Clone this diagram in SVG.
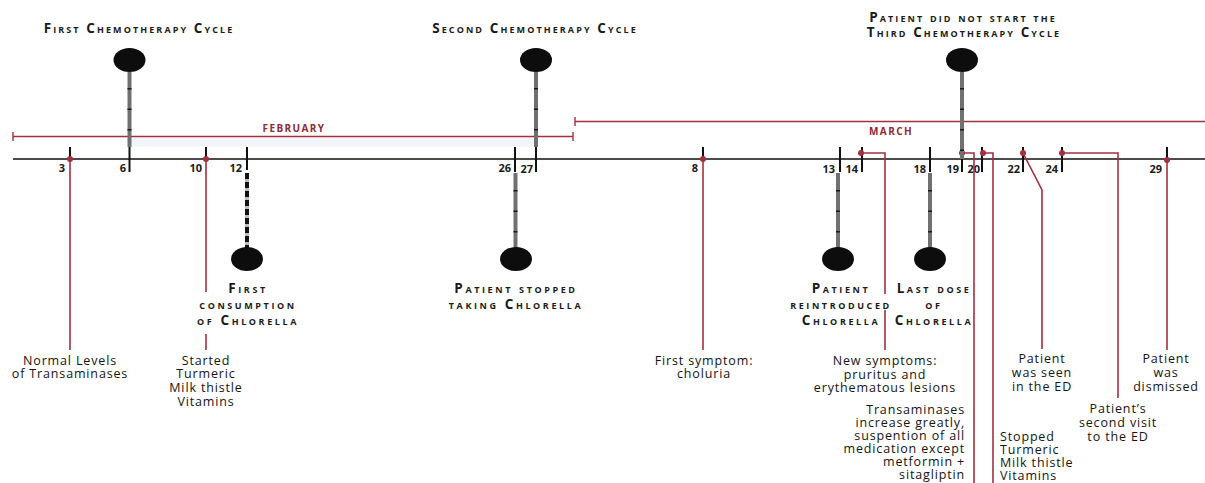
<svg xmlns="http://www.w3.org/2000/svg" width="1205" height="483" viewBox="0 0 1205 483">
<style>
.h{font-family:"Open Sans","DejaVu Sans",sans-serif;font-weight:700;font-variant:small-caps;font-size:13.5px;letter-spacing:2.1px;fill:#1a1a1a;text-anchor:middle}
.l{font-family:"Open Sans","DejaVu Sans",sans-serif;font-weight:700;font-variant:small-caps;font-size:13.5px;letter-spacing:2.6px;fill:#1a1a1a;text-anchor:middle}
.b{font-family:"Open Sans","DejaVu Sans",sans-serif;font-size:12.5px;letter-spacing:0.85px;fill:#141414;text-anchor:middle}
.be{text-anchor:end}
.bs{text-anchor:start}
.n{font-family:"Open Sans","DejaVu Sans",sans-serif;font-weight:700;font-size:11px;fill:#1a1a1a;text-anchor:end}
.m{font-family:"Open Sans","DejaVu Sans",sans-serif;font-weight:700;font-size:10px;letter-spacing:1.4px;fill:#8e2a36;text-anchor:middle}
.r{stroke:#a3303d;stroke-width:1.6;fill:none}
.mo{stroke:#a3303d;stroke-width:1.4;fill:none}
.t{stroke:#111;stroke-width:2}
.stem{stroke:#707070;stroke-width:4}
.stemd{stroke:#1a1a1a;stroke-width:4;stroke-dasharray:1.5 19}
.stemb{stroke:#111;stroke-width:4;stroke-dasharray:6 3}
.dot{fill:#a3303d}
.ball{fill:#0d0d0d}
</style>

<g id="axis">
  <rect x="131" y="137.5" width="403" height="9" fill="#f1f4f8"/>
  <line x1="13" y1="159" x2="1205" y2="159" stroke="#111" stroke-width="1.6"/>
</g>

<g id="months">
  <g id="february">
    <line class="mo" x1="13" y1="136.5" x2="573" y2="136.5"/>
    <line class="mo" x1="13" y1="132" x2="13" y2="141"/>
    <line class="mo" x1="573" y1="132" x2="573" y2="141"/>
    <text class="m" x="294" y="132">FEBRUARY</text>
  </g>
  <g id="march">
    <line class="mo" x1="575" y1="121.5" x2="1205" y2="121.5"/>
    <line class="mo" x1="575" y1="117" x2="575" y2="126"/>
    <text class="m" x="891" y="135">MARCH</text>
  </g>
</g>

<g id="ticks">
  <line class="t" x1="70" y1="147" x2="70" y2="159"/>
  <line class="t" x1="129.5" y1="147" x2="129.5" y2="172"/>
  <line class="t" x1="206" y1="147" x2="206" y2="159"/>
  <line class="t" x1="247" y1="147" x2="247" y2="170"/>
  <line class="t" x1="515" y1="147" x2="515" y2="172"/>
  <line class="t" x1="536" y1="147" x2="536" y2="172"/>
  <line class="t" x1="703" y1="147" x2="703" y2="159"/>
  <line class="t" x1="840" y1="147" x2="840" y2="172"/>
  <line class="t" x1="862" y1="147" x2="862" y2="172"/>
  <line class="t" x1="930" y1="147" x2="930" y2="172"/>
  <line class="t" x1="962" y1="147" x2="962" y2="172"/>
  <line class="t" x1="982" y1="147" x2="982" y2="172"/>
  <line class="t" x1="1023" y1="147" x2="1023" y2="172"/>
  <line class="t" x1="1062" y1="147" x2="1062" y2="172"/>
  <line class="t" x1="1167" y1="147" x2="1167" y2="160"/>
  <text class="n" x="65" y="172">3</text>
  <text class="n" x="126" y="172">6</text>
  <text class="n" x="202" y="172">10</text>
  <text class="n" x="242" y="172">12</text>
  <text class="n" x="511" y="172">26</text>
  <text class="n" x="533" y="173">27</text>
  <text class="n" x="698" y="172">8</text>
  <text class="n" x="835" y="173">13</text>
  <text class="n" x="858" y="173">14</text>
  <text class="n" x="926" y="173">18</text>
  <text class="n" x="959" y="173">19</text>
  <text class="n" x="980" y="173">20</text>
  <text class="n" x="1020" y="173">22</text>
  <text class="n" x="1058" y="173">24</text>
  <text class="n" x="1162" y="173">29</text>
</g>

<g id="connectors">
  <path class="r" d="M70 159V350"/>
  <path class="r" d="M206 159V292M206 334V350"/>
  <path class="r" d="M703 159V350"/>
  <path class="r" d="M861 153H885V294M885 310V350"/>
  <path class="r" d="M962 153H974V483"/>
  <path class="r" d="M983 153H993V483"/>
  <path class="r" d="M1023 153L1042 190V349"/>
  <path class="r" d="M1062 153H1118V398"/>
  <path class="r" d="M1167 160V350"/>
  <circle class="dot" cx="70" cy="159" r="3"/>
  <circle class="dot" cx="206" cy="159" r="3"/>
  <circle class="dot" cx="703" cy="159" r="3"/>
  <circle class="dot" cx="861" cy="153" r="3"/>
  <circle class="dot" cx="962" cy="153" r="3"/>
  <circle class="dot" cx="983" cy="153" r="3"/>
  <circle class="dot" cx="1023" cy="153" r="3"/>
  <circle class="dot" cx="1062" cy="153" r="3"/>
  <circle class="dot" cx="1167" cy="160" r="3"/>
</g>

<g id="chemo1">
  <line class="stem" x1="129.5" y1="72" x2="129.5" y2="147"/>
  <line class="stemd" x1="129.5" y1="88" x2="129.5" y2="147"/>
  <ellipse class="ball" cx="129.5" cy="60" rx="16" ry="12"/>
  <text class="h" x="139" y="33">First Chemotherapy Cycle</text>
</g>
<g id="chemo2">
  <line class="stem" x1="536" y1="72" x2="536" y2="147"/>
  <line class="stemd" x1="536" y1="88" x2="536" y2="147"/>
  <ellipse class="ball" cx="536" cy="60" rx="16" ry="12"/>
  <text class="h" x="535" y="33">Second Chemotherapy Cycle</text>
</g>
<g id="chemo3">
  <line class="stem" x1="962" y1="72" x2="962" y2="159"/>
  <line class="stemd" x1="962" y1="88" x2="962" y2="159"/>
  <ellipse class="ball" cx="962" cy="60" rx="16" ry="12"/>
  <text class="h" x="963" y="22">Patient did not start the</text>
  <text class="h" x="964" y="37">Third Chemotherapy Cycle</text>
</g>

<g id="first-chlorella">
  <line stroke="#bbb" stroke-width="4" x1="247" y1="173" x2="247" y2="248"/>
  <line class="stemb" x1="247" y1="173" x2="247" y2="248"/>
  <ellipse class="ball" cx="247" cy="259" rx="16" ry="12"/>
  <text class="l" x="248" y="293">First</text>
  <text class="l" x="248" y="309">consumption</text>
  <text class="l" x="248" y="325">of Chlorella</text>
</g>
<g id="stopped-chlorella">
  <line class="stem" x1="515.5" y1="173" x2="515.5" y2="248"/>
  <line class="stemd" x1="515.5" y1="190" x2="515.5" y2="248"/>
  <ellipse class="ball" cx="516" cy="259" rx="16" ry="12"/>
  <text class="l" x="516" y="293">Patient stopped</text>
  <text class="l" x="516" y="309">taking Chlorella</text>
</g>
<g id="reintroduced-chlorella">
  <line class="stem" x1="838" y1="173" x2="838" y2="248"/>
  <line class="stemd" x1="838" y1="190" x2="838" y2="248"/>
  <ellipse class="ball" cx="838" cy="259" rx="16" ry="12"/>
  <text class="l" x="841" y="293">Patient</text>
  <text class="l" x="841" y="309">reintroduced</text>
  <text class="l" x="841" y="325">Chlorella</text>
</g>
<g id="last-chlorella">
  <line class="stem" x1="930" y1="173" x2="930" y2="248"/>
  <line class="stemd" x1="930" y1="190" x2="930" y2="248"/>
  <ellipse class="ball" cx="930" cy="259" rx="16" ry="12"/>
  <text class="l" x="934" y="293">Last dose</text>
  <text class="l" x="934" y="309">of</text>
  <text class="l" x="934" y="325">Chlorella</text>
</g>

<g id="e-normal">
  <text class="b" x="70" y="365">Normal Levels</text>
  <text class="b" x="70" y="378">of Transaminases</text>
</g>
<g id="e-started">
  <text class="b" x="206" y="365">Started</text>
  <text class="b" x="206" y="378">Turmeric</text>
  <text class="b" x="206" y="392">Milk thistle</text>
  <text class="b" x="206" y="406">Vitamins</text>
</g>
<g id="e-choluria">
  <text class="b" x="704" y="365">First symptom:</text>
  <text class="b" x="704" y="378">choluria</text>
</g>
<g id="e-newsymptoms">
  <text class="b" x="885" y="365">New symptoms:</text>
  <text class="b" x="885" y="379">pruritus and</text>
  <text class="b" x="885" y="392">erythematous lesions</text>
</g>
<g id="e-transaminases">
  <text class="b be" x="965" y="414">Transaminases</text>
  <text class="b be" x="965" y="427">increase greatly,</text>
  <text class="b be" x="965" y="440">suspention of all</text>
  <text class="b be" x="965" y="453">medication except</text>
  <text class="b be" x="965" y="466">metformin +</text>
  <text class="b be" x="965" y="479">sitagliptin</text>
</g>
<g id="e-stopped">
  <text class="b bs" x="1000" y="441">Stopped</text>
  <text class="b bs" x="1000" y="454">Turmeric</text>
  <text class="b bs" x="1000" y="467">Milk thistle</text>
  <text class="b bs" x="1000" y="480">Vitamins</text>
</g>
<g id="e-ed1">
  <text class="b" x="1042" y="363">Patient</text>
  <text class="b" x="1042" y="377">was seen</text>
  <text class="b" x="1042" y="391">in the ED</text>
</g>
<g id="e-ed2">
  <text class="b" x="1118" y="413">Patient’s</text>
  <text class="b" x="1118" y="427">second visit</text>
  <text class="b" x="1118" y="441">to the ED</text>
</g>
<g id="e-dismissed">
  <text class="b" x="1166" y="363">Patient</text>
  <text class="b" x="1166" y="377">was</text>
  <text class="b" x="1166" y="391">dismissed</text>
</g>
</svg>
